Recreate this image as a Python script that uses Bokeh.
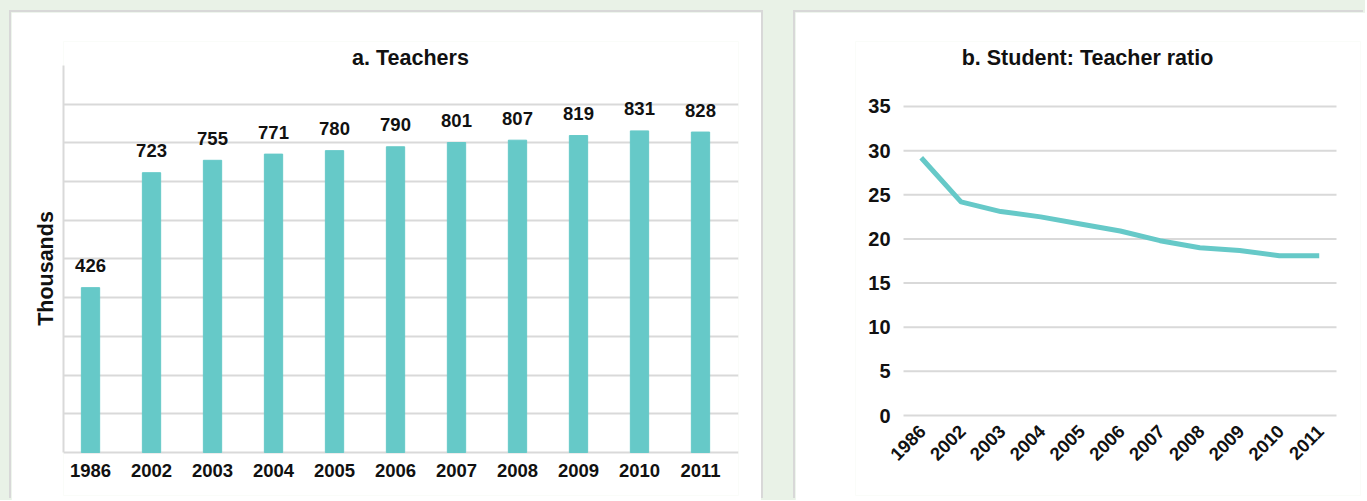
import math
from bokeh.plotting import figure
from bokeh.models import Range1d, FixedTicker, ColumnDataSource
from bokeh.layouts import row
from bokeh.embed import file_html
from bokeh.resources import INLINE
from bokeh.core.properties import value

# ---- data ----
years = ["1986", "2002", "2003", "2004", "2005", "2006", "2007", "2008", "2009", "2010", "2011"]
teachers = [426, 723, 755, 771, 780, 790, 801, 807, 819, 831, 828]
ratio = [29.2, 24.2, 23.1, 22.5, 21.7, 20.9, 19.8, 19.0, 18.7, 18.1, 18.1]
teacher_grid = [0, 100, 200, 300, 400, 500, 600, 700, 800, 900]
ratio_ticks = [0, 5, 10, 15, 20, 25, 30, 35]
title_a = "a. Teachers"
title_b = "b. Student: Teacher ratio"

TEAL = "#66c9c8"
GRID = "#d9d9d9"
FONT = "Liberation Sans"
TXT = "#111111"
BG = "#e9f2e7"
EDGE = "#d8d8d8"

idx = list(range(len(years)))
src = ColumnDataSource(dict(x=idx, year=years, t=teachers,
                            lab=[str(v) for v in teachers], r=ratio,
                            zero=[0] * len(years)))

# ---- panel a: Teachers ----
pa = figure(width=750, height=488, output_backend="svg", toolbar_location=None,
            x_range=Range1d(-0.443, 10.623), y_range=Range1d(-111.1, 1062.0),
            min_border_left=52, min_border_right=23, min_border_top=29,
            min_border_bottom=5)
pa.margin = (12, 0, 0, 11)
pa.styles = {"box-shadow": f"-2px -2px 0 0 {EDGE}, 2px -2px 0 0 {EDGE}"}
pa.background_fill_color = "white"
pa.border_fill_color = "white"
pa.outline_line_color = None

pa.vbar(x="x", top="t", width=0.3, color=TEAL, source=src)
pa.text(x="x", y="t", text="lab", source=src, text_align="center",
        text_baseline="middle", y_offset=-22, text_font=value(FONT),
        text_font_style="bold", text_font_size="18.5px", text_color=TXT)
pa.text(x="x", y="zero", text="year", source=src, text_align="center",
        text_baseline="middle", y_offset=18, text_font=value(FONT),
        text_font_style="bold", text_font_size="18.5px", text_color=TXT)
pa.text(x=[5.2455], y=[1018.1], text=[title_a], text_align="center",
        text_baseline="middle", text_font=value(FONT), text_font_style="bold",
        text_font_size="21.5px", text_color=TXT)

pa.xaxis.visible = False

pa.yaxis.ticker = FixedTicker(ticks=[])
pa.yaxis.bounds = (0, 1000)
pa.yaxis.axis_line_color = GRID
pa.yaxis.axis_line_width = 2
pa.yaxis.major_tick_line_color = None
pa.yaxis.minor_tick_line_color = None
pa.yaxis.major_tick_out = 0
pa.yaxis.major_tick_in = 0
pa.yaxis.major_label_standoff = 0
pa.yaxis.axis_label = "Thousands"
pa.yaxis.axis_label_standoff = 6
pa.yaxis.axis_label_text_font = FONT
pa.yaxis.axis_label_text_font_style = "bold"
pa.yaxis.axis_label_text_font_size = "21.5px"
pa.yaxis.axis_label_text_color = TXT

pa.xgrid.grid_line_color = None
pa.ygrid.ticker = FixedTicker(ticks=teacher_grid)
pa.ygrid.grid_line_color = GRID
pa.ygrid.grid_line_width = 2

# ---- panel b: Student: Teacher ratio ----
GX0, GX1 = -0.445, 10.434   # horizontal extent of the plotting area (category units)
pb = figure(width=570, height=488, output_backend="svg", toolbar_location=None,
            x_range=Range1d(-1.651, 11.037), y_range=Range1d(-9.061, 42.362),
            min_border_left=60, min_border_right=5, min_border_top=29,
            min_border_bottom=5)
pb.margin = (12, 0, 0, 34)
pb.styles = {"box-shadow": f"-2px -2px 0 0 {EDGE}"}
pb.background_fill_color = "white"
pb.border_fill_color = "white"
pb.outline_line_color = None
pb.xaxis.visible = False
pb.yaxis.visible = False
pb.xgrid.grid_line_color = None
pb.ygrid.grid_line_color = None

n_t = len(ratio_ticks)
pb.segment(x0=[GX0] * n_t, x1=[GX1] * n_t, y0=ratio_ticks, y1=ratio_ticks,
           line_color=GRID, line_width=2)
pb.text(x=[GX0] * n_t, y=ratio_ticks, text=[str(t) for t in ratio_ticks],
        text_align="right", text_baseline="middle", x_offset=-13,
        text_font=value(FONT), text_font_style="bold", text_font_size="20px",
        text_color=TXT)

pb.line(x="x", y="r", source=src, color=TEAL, line_width=5, line_join="round")
pb.text(x="x", y="zero", text="year", source=src, angle=math.pi / 4,
        text_align="right", text_baseline="middle", x_offset=1.3, y_offset=12.6,
        text_font=value(FONT), text_font_style="bold", text_font_size="18.5px",
        text_color=TXT)
pb.text(x=[4.178], y=[40.437], text=[title_b], text_align="center",
        text_baseline="middle", text_font=value(FONT), text_font_style="bold",
        text_font_size="21.5px", text_color=TXT)

layout = row(pa, pb)
layout.styles = {"background-color": BG}

html = file_html(layout, INLINE, title="Teachers")
html = html.replace("<body>", '<body style="background-color:%s;">' % BG, 1)
open("out.html", "w").write(html)
